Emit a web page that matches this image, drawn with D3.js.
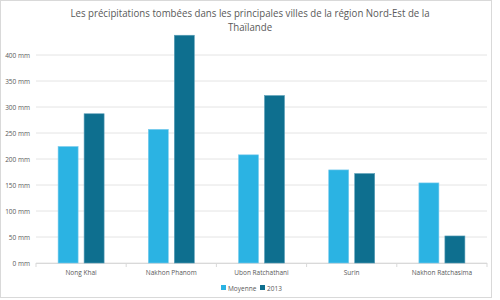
<!DOCTYPE html>
<html lang="fr">
<head>
<meta charset="UTF-8" />
<title>Précipitations Nord-Est Thaïlande</title>
<style>
  body { margin: 0; background: #fff; font-family: "Open Sans", "Liberation Sans", sans-serif; }
  svg { display: block; }
</style>
</head>
<body>
<svg id="chart" width="500" height="300"></svg>
<script src="https://d3js.org/d3.v7.min.js"></script>
<script>
  const cities = ["Nong Khai", "Nakhon Phanom", "Ubon Ratchathani", "Surin", "Nakhon Ratchasima"];
  const moyenne = [224, 257, 208, 179, 154];
  const an2013 = [287, 438, 322, 172, 52];
  const seriesNames = ["Moyenne", "2013"];
  const colors = ["#2bb3e3", "#0e6f8f"];
  const yTicks = [0, 50, 100, 150, 200, 250, 300, 350, 400];

  const svg = d3.select("#chart");
  const margin = {top: 55, right: 13, bottom: 37, left: 36};
  const width = 500 - margin.left - margin.right;
  const height = 263 - margin.top;

  // chart frame
  svg.append("rect")
    .attr("x", 0.5).attr("y", 0.5)
    .attr("width", 491).attr("height", 297)
    .attr("fill", "#fff").attr("stroke", "#d9d9d9");

  // title, squeezed a bit horizontally to get closer to a Calibri look
  svg.append("g")
    .attr("transform", "translate(250,0) scale(0.88,1)")
    .append("text")
    .attr("text-anchor", "middle")
    .attr("font-size", 11).attr("fill", "#595959")
    .selectAll("tspan")
    .data(["Les précipitations tombées dans les principales villes de la région Nord-Est de la", "Thaïlande"])
    .join("tspan")
    .attr("x", 0).attr("y", (d, i) => 17 + i * 14)
    .text(d => d);

  const g = svg.append("g").attr("transform", `translate(${margin.left},${margin.top})`);

  const x = d3.scaleBand().domain(cities).range([0, width]);
  const y = d3.scaleLinear().domain([0, 400]).range([height, 0]);

  g.selectAll(".grid")
    .data(yTicks)
    .join("line")
    .attr("x1", 0).attr("x2", width)
    .attr("y1", d => y(d)).attr("y2", d => y(d))
    .attr("stroke", "#e4e4e4").attr("stroke-width", 1);

  g.selectAll(".ylab")
    .data(yTicks)
    .join("text")
    .attr("x", -6).attr("y", d => y(d) + 2.5)
    .attr("text-anchor", "end")
    .attr("font-size", 6.5).attr("fill", "#595959")
    .text(d => d + " mm");

  // category ticks
  g.selectAll(".xtick")
    .data(d3.range(cities.length + 1))
    .join("line")
    .attr("x1", i => i * x.bandwidth()).attr("x2", i => i * x.bandwidth())
    .attr("y1", height).attr("y2", height + 4)
    .attr("stroke", "#d9d9d9");
  g.append("line")
    .attr("x1", 0).attr("x2", width)
    .attr("y1", height + 0.5).attr("y2", height + 0.5)
    .attr("stroke", "#d9d9d9");

  const barW = 20, gap = 6;
  const data = [moyenne, an2013];
  data.forEach((vals, s) => {
    g.selectAll(".bar" + s)
      .data(vals)
      .join("rect")
      .attr("x", (d, i) => x(cities[i]) + x.bandwidth() / 2 - (barW * 2 + gap) / 2 + s * (barW + gap))
      .attr("y", d => y(d))
      .attr("width", barW)
      .attr("height", d => height - y(d))
      .attr("fill", colors[s])
      .attr("stroke", s ? "#5a9fb8" : "#7ccbed")
      .attr("stroke-width", 0.6);
  });

  g.selectAll(".xlab")
    .data(cities)
    .join("text")
    .attr("x", d => x(d) + x.bandwidth() / 2)
    .attr("y", height + 12)
    .attr("text-anchor", "middle")
    .attr("font-size", 6.5).attr("fill", "#595959")
    .text(d => d);

  // legend
  const legendX = [221, 260];
  const leg = svg.append("g");
  seriesNames.forEach((n, i) => {
    leg.append("rect")
      .attr("x", legendX[i]).attr("y", 285)
      .attr("width", 5).attr("height", 5)
      .attr("fill", colors[i]);
    leg.append("text")
      .attr("x", legendX[i] + 7).attr("y", 290.5)
      .attr("font-size", 6.5).attr("fill", "#595959")
      .text(n);
  });
</script>
</body>
</html>
